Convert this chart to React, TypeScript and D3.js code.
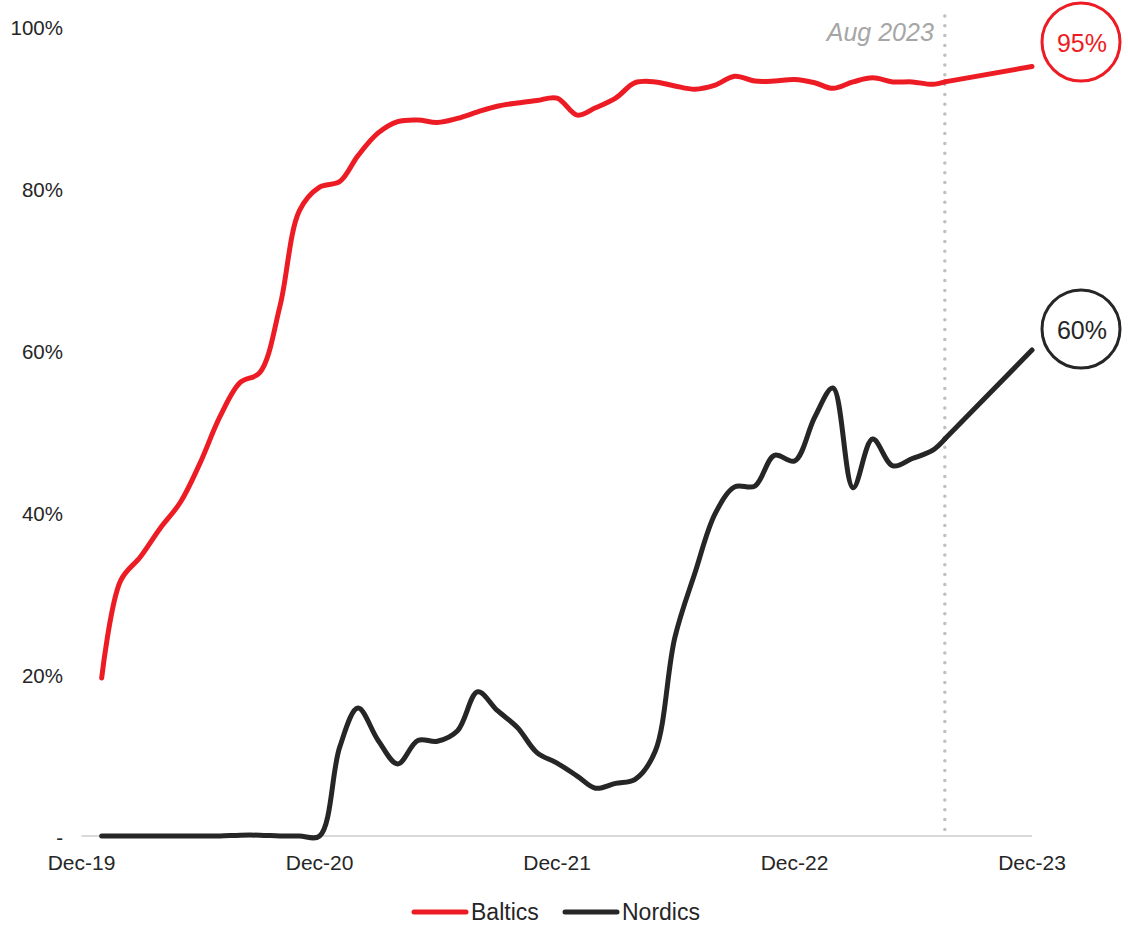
import React from "react";
import * as d3 from "d3";

// ---- data ----
const months = [
  "2020-01","2020-02","2020-03","2020-04","2020-05","2020-06","2020-07","2020-08","2020-09","2020-10","2020-11","2020-12",
  "2021-01","2021-02","2021-03","2021-04","2021-05","2021-06","2021-07","2021-08","2021-09","2021-10","2021-11","2021-12",
  "2022-01","2022-02","2022-03","2022-04","2022-05","2022-06","2022-07","2022-08","2022-09","2022-10","2022-11","2022-12",
  "2023-01","2023-02","2023-03","2023-04","2023-05","2023-06","2023-07",
];
const baltics = [
  19.5, 31.5, 34.5, 38, 41.2, 46, 51.8, 56, 57.2, 65.4, 77.2, 80.1,
  80.8, 84, 86.8, 88.2, 88.4, 88.1, 88.6, 89.4, 90.1, 90.5, 90.8, 91.1,
  89, 89.9, 91.1, 93, 93.1, 92.6, 92.2, 92.7, 93.8, 93.2, 93.2, 93.4,
  93, 92.3, 93.1, 93.6, 93.1, 93.1, 92.8,
];
const nordics = [
  0, 0, 0, 0, 0, 0, 0, 0.1, 0.1, 0, 0, 0,
  11, 15.8, 11.8, 8.9, 11.8, 11.7, 13, 17.8, 15.5, 13.4, 10.3, 9,
  7.4, 5.9, 6.5, 7, 10.5, 24.5, 32.5, 39.8, 43.1, 43.2, 47, 46.3,
  51.7, 55.3, 43, 49, 45.7, 46.6, 47.6,
];
const lastObsDate = "2023-08-19";
const lastObs = { Baltics: 93.1, Nordics: 49 };
const projDate = "2023-12-31";
const projection = { Baltics: 95, Nordics: 60 };
const markerLabel = "Aug 2023";

const xTickDates = ["2019-12-31", "2020-12-31", "2021-12-31", "2022-12-31", "2023-12-31"];
const xTickLabels = ["Dec-19", "Dec-20", "Dec-21", "Dec-22", "Dec-23"];
const yTicks = [0, 20, 40, 60, 80, 100];
const yTickLabels = ["-", "20%", "40%", "60%", "80%", "100%"];

const seriesNames = ["Baltics", "Nordics"];
const seriesColors = ["#ED1C24", "#262626"];

const FONT = "'Liberation Sans', Arial, Helvetica, sans-serif";

const parse = d3.utcParse("%Y-%m-%d");
const monthEnd = (m: string) => {
  const [y, mo] = m.split("-").map(Number);
  return new Date(Date.UTC(y, mo, 0)); // last day of month
};

export default function App() {
  const x = d3
    .scaleUtc()
    .domain([parse(xTickDates[0])!, parse(xTickDates[xTickDates.length - 1])!])
    .range([81.5, 1032]);
  const y = d3.scaleLinear().domain([0, 100]).range([836, 26]);

  const dates = months.map(monthEnd);
  const obsD = parse(lastObsDate)!;
  const projD = parse(projDate)!;

  const smooth = d3
    .line<[Date, number]>()
    .x((d) => x(d[0]))
    .y((d) => y(d[1]))
    .curve(d3.curveCatmullRom.alpha(0.5));
  const straight = d3
    .line<[Date, number]>()
    .x((d) => x(d[0]))
    .y((d) => y(d[1]));

  const valuesBy: Record<string, number[]> = { Baltics: baltics, Nordics: nordics };

  const markerX = x(obsD);

  return (
    <svg
      width={1128}
      height={925}
      style={{ position: "absolute", left: 0, top: 0, background: "#fff" }}
      fontFamily={FONT}
    >
      <rect width={1128} height={925} fill="#fff" />
      {/* baseline */}
      <line x1={x(parse(xTickDates[0])!)} x2={x(parse(xTickDates[4])!)} y1={y(0)} y2={y(0)} stroke="#d9d9d9" strokeWidth={2} />

      {/* y labels */}
      {yTicks.map((t, i) => (
        <text key={t} x={63} y={y(t) + 1} textAnchor="end" dominantBaseline="central" fontSize={20.5} fill="#262626">
          {yTickLabels[i]}
        </text>
      ))}

      {/* x labels */}
      {xTickDates.map((d, i) => (
        <text key={d} x={x(parse(d)!)} y={862} textAnchor="middle" dominantBaseline="central" fontSize={21} fill="#262626">
          {xTickLabels[i]}
        </text>
      ))}

      {/* marker line */}
      <line x1={markerX} x2={markerX} y1={16} y2={836} stroke="#bfbfbf" strokeWidth={3.5} strokeLinecap="round" strokeDasharray="0 9.8" />
      <text x={markerX - 11} y={32} textAnchor="end" dominantBaseline="central" fontSize={25} fontStyle="italic" fill="#a6a6a6">
        {markerLabel}
      </text>

      {/* series */}
      {seriesNames.map((name, si) => {
        const vals = valuesBy[name];
        const pts: [Date, number][] = dates.map((d, i) => [d, vals[i]]);
        pts.push([obsD, (lastObs as any)[name]]);
        const proj: [Date, number][] = [
          [obsD, (lastObs as any)[name]],
          [projD, (projection as any)[name]],
        ];
        return (
          <g key={name}>
            <path d={smooth(pts) || ""} fill="none" stroke={seriesColors[si]} strokeWidth={5} strokeLinecap="round" strokeLinejoin="round" />
            <path d={straight(proj) || ""} fill="none" stroke={seriesColors[si]} strokeWidth={5} strokeLinecap="round" />
          </g>
        );
      })}

      {/* end-value circles */}
      {seriesNames.map((name, si) => {
        const v = (projection as any)[name] as number;
        const cy = si === 0 ? 42 : y(v) - 21;
        const cx = 1081;
        return (
          <g key={name + "c"}>
            <circle cx={cx} cy={cy} r={39} fill="#fff" stroke={seriesColors[si]} strokeWidth={3} />
            <text x={cx + 1} y={cy + 1} textAnchor="middle" dominantBaseline="central" fontSize={25} fill={seriesColors[si]}>
              {`${v}%`}
            </text>
          </g>
        );
      })}

      {/* legend */}
      {seriesNames.map((name, si) => {
        const lx = si === 0 ? 412 : 563;
        return (
          <g key={name + "l"}>
            <line x1={lx + 2} x2={lx + 54} y1={912} y2={912} stroke={seriesColors[si]} strokeWidth={5} strokeLinecap="round" />
            <text x={lx + 59} y={912} dominantBaseline="central" fontSize={23} fill="#262626">
              {name}
            </text>
          </g>
        );
      })}
    </svg>
  );
}
